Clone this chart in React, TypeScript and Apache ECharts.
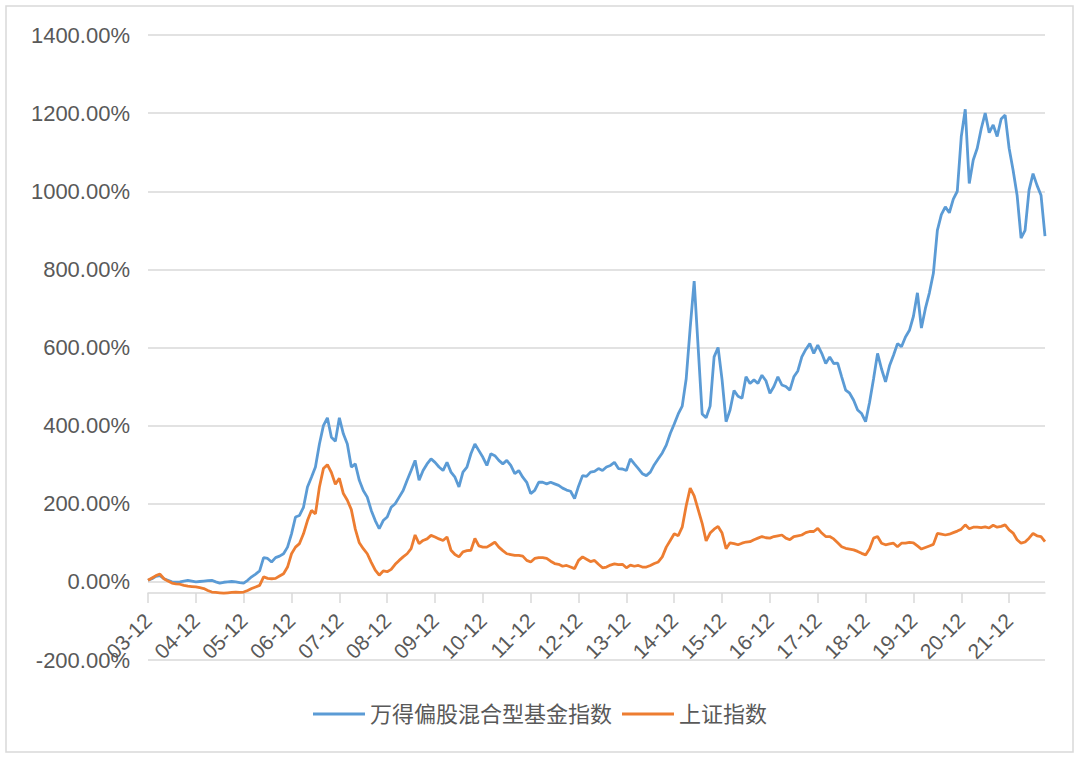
import React, { useEffect, useRef } from "react";
import * as echarts from "echarts";

// Month labels "YY-MM" starting 2003-12, one per month
const START_YEAR = 2003;
const START_MONTH = 12;
const MONTH_COUNT = 226;
const categories: string[] = [];
for (let i = 0; i < MONTH_COUNT; i++) {
  const t = START_YEAR * 12 + (START_MONTH - 1) + i;
  const y = Math.floor(t / 12) % 100;
  const m = (t % 12) + 1;
  categories.push(String(y).padStart(2, "0") + "-" + String(m).padStart(2, "0"));
}

const yTicks = [-200, 0, 200, 400, 600, 800, 1000, 1200, 1400];

const seriesNames = ["万得偏股混合型基金指数", "上证指数"];

// 万得偏股混合型基金指数 cumulative return (%), monthly
const fundIndex = [
  4, 8, 14, 16, 8, 4, 0, -1, 0, 2, 4, 2,
  0, 1, 2, 3, 4, 0, -3, -1, 0, 1, 0, -2,
  -3, 4, 13, 20, 28, 62, 60, 51, 62, 66, 72, 89,
  123, 166, 170, 191, 243, 268, 294, 353, 400, 420, 370, 360,
  420, 379, 353, 294, 302, 260, 234, 217, 183, 157, 136, 157,
  166, 191, 200, 217, 234, 260, 285, 311, 260, 285, 302, 315,
  306, 294, 285, 306, 281, 268, 243, 281, 294, 328, 353, 336,
  319, 298, 328, 323, 311, 302, 311, 298, 277, 285, 268, 255,
  226, 234, 255, 255, 251, 255, 251, 247, 240, 235, 232, 213,
  245, 272, 270, 281, 283, 290, 285, 294, 298, 306, 290, 289,
  285, 315, 302, 290, 277, 272, 281, 300, 315, 330, 350, 380,
  404, 430, 450, 520, 650, 770, 600, 430, 420, 450, 576, 600,
  517, 410, 440, 490, 475, 470, 525, 508, 517, 508, 529, 515,
  483, 500, 525, 504, 500, 491, 525, 540, 576, 595, 610, 585,
  606, 585, 559, 576, 559, 560, 525, 491, 483, 465, 440, 431,
  410, 460, 520, 585, 545, 512, 553, 580, 610, 602, 627, 644,
  680, 740, 650, 700, 740, 790, 900, 940, 960, 945, 980, 1000,
  1140, 1210, 1020, 1080, 1110, 1160, 1200, 1150, 1170, 1140, 1185, 1195,
  1110, 1054, 990, 880, 900, 1003, 1045, 1015, 990, 885,
];

// 上证指数 cumulative return (%), monthly
const shanghaiIndex = [
  4, 10, 16, 20, 8, 2, -3, -5, -6, -9, -11, -12,
  -13, -15, -17, -22, -26, -27, -28, -29, -28, -27, -26, -27,
  -26, -22, -17, -13, -9, 13, 9, 8, 9, 15, 21, 38,
  72, 89, 98, 123, 157, 183, 174, 243, 290, 300, 280, 250,
  265, 226, 209, 185, 135, 100, 85, 72, 50, 30, 17, 28,
  26, 32, 45, 55, 64, 72, 85, 120, 98, 106, 110, 119,
  115, 110, 106, 115, 81, 70, 64, 77, 80, 81, 111, 92,
  89, 89, 95, 102, 89, 80, 72, 70, 68, 68, 66, 55,
  51, 60, 62, 62, 60, 53, 47, 45, 40, 42, 38, 34,
  55, 64, 58, 52, 55, 45, 36, 38, 43, 46, 44, 45,
  36, 43, 40, 42, 38, 38, 42, 47, 51, 64, 89, 106,
  123, 118, 140, 195, 240, 220, 185, 150, 105, 125, 135, 142,
  125, 85, 100, 98, 95, 99, 102, 103, 108, 112, 116, 113,
  112, 116, 118, 120, 112, 108, 116, 118, 120, 126, 129, 129,
  137, 125, 116, 116, 110, 100, 90, 86, 84, 82, 78, 73,
  69, 85, 112, 116, 99, 95, 97, 99, 90, 99, 99, 101,
  100, 92, 84, 88, 92, 96, 124, 122, 120, 122, 126, 130,
  135, 146, 136, 140, 140, 139, 141, 138, 145, 140, 142, 146,
  133, 125, 108, 99, 102, 112, 124, 118, 116, 103,
];

const colors = ["#5b9bd5", "#ed7d31"];

export default function App() {
  const ref = useRef<HTMLDivElement>(null);
  useEffect(() => {
    if (!ref.current) return;
    const chart = echarts.init(ref.current, null, { renderer: "svg" });
    const font = "'Liberation Sans', Arial, 'Noto Sans CJK SC', sans-serif";
    chart.setOption({
      animation: false,
      backgroundColor: "#ffffff",
      textStyle: { fontFamily: font },
      color: colors,
      graphic: [
        {
          type: "rect",
          shape: { x: 6, y: 6, width: 1067, height: 746 },
          style: { fill: "none", stroke: "#d9d9d9", lineWidth: 1.5 },
          silent: true,
        },
      ],
      grid: { left: 148, right: 35, top: 35, bottom: 98 },
      legend: {
        bottom: 28,
        left: "center",
        icon: "rect",
        itemWidth: 52,
        itemHeight: 3,
        itemGap: 10,
        textStyle: { fontSize: 22, color: "#595959", fontFamily: font },
        data: seriesNames,
      },
      xAxis: {
        type: "category",
        data: categories,
        boundaryGap: false,
        offset: -67,
        axisLine: { onZero: false, lineStyle: { color: "#d9d9d9", width: 1.5 } },
        axisTick: { interval: 11, length: 10, lineStyle: { color: "#d9d9d9", width: 1.5 } },
        axisLabel: {
          interval: 11,
          rotate: 45,
          margin: 24,
          fontSize: 21,
          color: "#595959",
          fontFamily: font,
        },
        splitLine: { show: false },
      },
      yAxis: {
        type: "value",
        min: yTicks[0],
        max: yTicks[yTicks.length - 1],
        interval: 200,
        axisLine: { show: false },
        axisTick: { show: false },
        axisLabel: {
          margin: 18,
          fontSize: 22,
          color: "#595959",
          fontFamily: font,
          formatter: (v: number) => v.toFixed(2) + "%",
        },
        splitLine: { lineStyle: { color: "#d9d9d9", width: 1.5 } },
      },
      series: [
        {
          name: seriesNames[0],
          type: "line",
          data: fundIndex,
          symbol: "none",
          lineStyle: { width: 2.8, color: colors[0] },
        },
        {
          name: seriesNames[1],
          type: "line",
          data: shanghaiIndex,
          symbol: "none",
          lineStyle: { width: 2.8, color: colors[1] },
        },
      ],
    });
    return () => chart.dispose();
  }, []);
  return (
    <div
      ref={ref}
      style={{ position: "fixed", left: 0, top: 0, width: 1080, height: 758 }}
    />
  );
}
